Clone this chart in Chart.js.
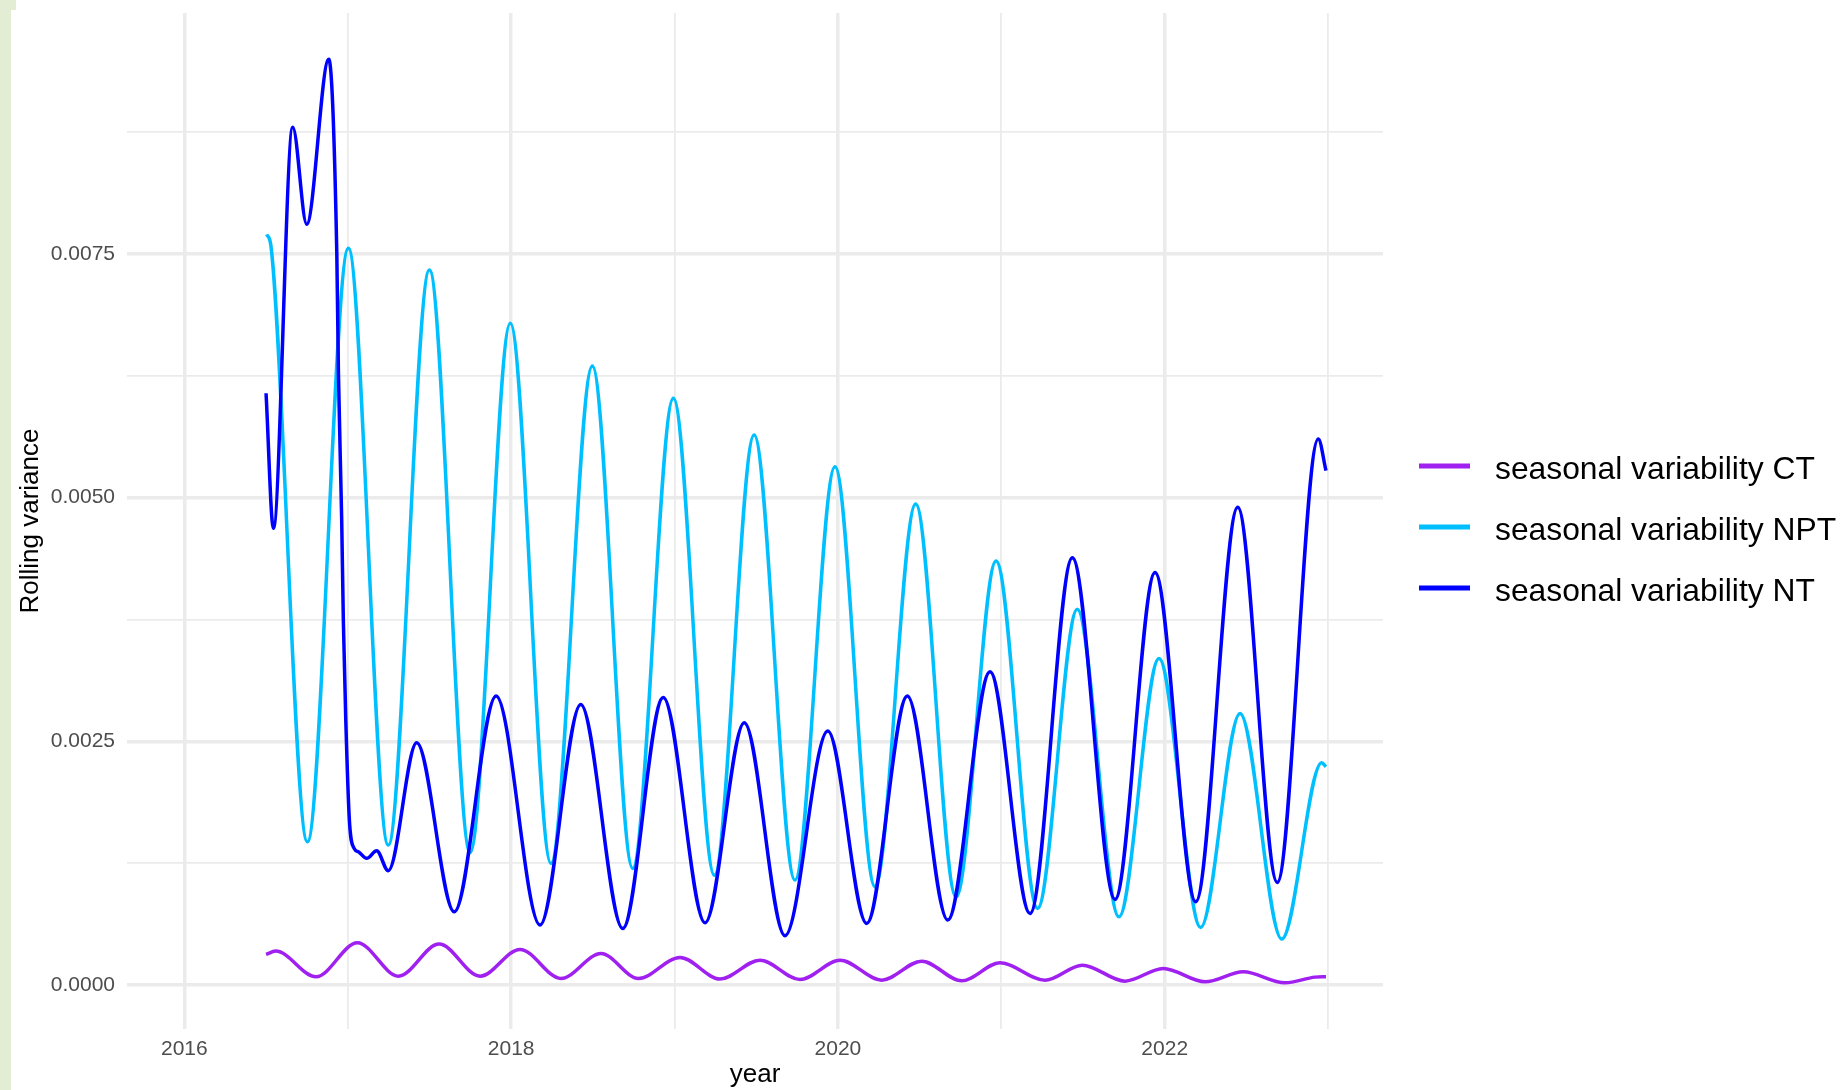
<!DOCTYPE html>
<html>
<head>
<meta charset="utf-8">
<title>Rolling variance</title>
<script src="https://cdn.jsdelivr.net/npm/chart.js@4.4.1/dist/chart.umd.min.js"></script>
<style>
  html, body { margin: 0; padding: 0; background: #ffffff; overflow: hidden; }
  #wrap { position: relative; width: 1844px; height: 1090px; }
  .strip { position: absolute; left: 0; top: 0; width: 11px; height: 1090px; background: #e3edd4; }
  .tab { position: absolute; left: 0; top: 0; width: 16px; height: 10px; background: #e3edd4; }
  canvas { position: absolute; left: 0; top: 0; }
</style>
</head>
<body>
<div id="wrap">
  <div class="strip"></div>
  <div class="tab"></div>
  <canvas id="chart" width="1844" height="1090"></canvas>
</div>
<script>
// Series names and colours
const seriesLabels = ['seasonal variability CT', 'seasonal variability NPT', 'seasonal variability NT'];
const seriesColors = ['#A020F0', '#00BFFF', '#0000FF'];

// Seasonal variability CT (decimal year, rolling variance)
const ctYears = [2016.500, 2016.559, 2016.806, 2017.059, 2017.310, 2017.559, 2017.810, 2018.054, 2018.305, 2018.550,
  2018.779, 2019.034, 2019.278, 2019.523, 2019.768, 2020.013, 2020.268, 2020.513, 2020.758, 2020.992,
  2021.267, 2021.496, 2021.757, 2021.991, 2022.247, 2022.481, 2022.736, 2022.920, 2022.987];
const ctValues = [0.000315, 0.000349, 0.000086, 0.000434, 0.000092, 0.000421, 0.000092, 0.000366, 0.000068, 0.000325,
  0.000068, 0.000284, 0.000062, 0.000256, 0.000058, 0.000256, 0.000051, 0.000246, 0.000044, 0.000229,
  0.000051, 0.000205, 0.000041, 0.000171, 0.000034, 0.000137, 0.000024, 0.000082, 0.000086];

// Seasonal variability NPT
const nptYears = [2016.504, 2016.530, 2016.753, 2017.004, 2017.248, 2017.500, 2017.749, 2017.995, 2018.244, 2018.497,
  2018.744, 2018.993, 2019.244, 2019.487, 2019.737, 2019.982, 2020.227, 2020.476, 2020.723, 2020.968,
  2021.222, 2021.465, 2021.720, 2021.965, 2022.220, 2022.461, 2022.716, 2022.961, 2022.987];
const nptValues = [0.007700, 0.007580, 0.001470, 0.007557, 0.001436, 0.007335, 0.001361, 0.006788, 0.001248, 0.006350,
  0.001197, 0.006018, 0.001128, 0.005642, 0.001077, 0.005317, 0.001009, 0.004934, 0.000906, 0.004350,
  0.000787, 0.003854, 0.000701, 0.003351, 0.000592, 0.002787, 0.000472, 0.002281, 0.002240];

// Seasonal variability NT
const ntYears = [2016.500, 2016.545, 2016.663, 2016.749, 2016.884, 2016.933, 2016.943, 2016.963, 2016.973, 2016.988,
  2017.010, 2017.039, 2017.065, 2017.116, 2017.177, 2017.248, 2017.422, 2017.652, 2017.908, 2018.177,
  2018.426, 2018.683, 2018.931, 2019.187, 2019.427, 2019.676, 2019.938, 2020.176, 2020.425, 2020.672,
  2020.931, 2021.176, 2021.435, 2021.696, 2021.941, 2022.190, 2022.447, 2022.689, 2022.940, 2022.987];
const ntValues = [0.006070, 0.004685, 0.008799, 0.007804, 0.009496, 0.007509, 0.006275, 0.004770, 0.003744, 0.002719,
  0.001693, 0.001402, 0.001368, 0.001300, 0.001378, 0.001173, 0.002486, 0.000752, 0.002965, 0.000616,
  0.002879, 0.000581, 0.002951, 0.000639, 0.002691, 0.000506, 0.002606, 0.000633, 0.002965, 0.000667,
  0.003214, 0.000735, 0.004384, 0.000879, 0.004233, 0.000855, 0.004900, 0.001053, 0.005601, 0.005276];

// Axis ticks: every tick gets a grid line, only the listed ones get a label
const xTickYears = [2016, 2017, 2018, 2019, 2020, 2021, 2022, 2023];
const xLabelYears = [2016, 2018, 2020, 2022];
const yTickValues = [0, 0.00125, 0.0025, 0.00375, 0.005, 0.00625, 0.0075, 0.00875];
const yLabelValues = [0, 0.0025, 0.005, 0.0075];

const seriesYears = [ctYears, nptYears, ntYears];
const seriesValues = [ctValues, nptValues, ntValues];

const near = (list, v) => list.some(t => Math.abs(t - v) < 1e-9);
const toPoints = (xs, ys) => xs.map((x, i) => ({ x: x, y: ys[i] }));

Chart.defaults.font.family = '"Liberation Sans", Arial, Helvetica, sans-serif';

// Legend drawn to the right of the panel
const sideLegend = {
  id: 'sideLegend',
  afterDraw(chart) {
    const ctx = chart.ctx;
    ctx.save();
    ctx.font = '31.8px "Liberation Sans", Arial, sans-serif';
    ctx.textBaseline = 'alphabetic';
    ctx.textAlign = 'left';
    chart.data.datasets.forEach((ds, i) => {
      const y = 466 + i * 61;
      ctx.strokeStyle = ds.borderColor;
      ctx.lineWidth = 5;
      ctx.lineCap = 'butt';
      ctx.beginPath();
      ctx.moveTo(1419, y);
      ctx.lineTo(1470, y);
      ctx.stroke();
      ctx.fillStyle = '#000000';
      ctx.fillText(ds.label, 1495, y + 12.5);
    });
    ctx.restore();
  }
};

const datasets = seriesLabels.map((label, i) => ({
  label: label,
  data: toPoints(seriesYears[i], seriesValues[i]),
  borderColor: seriesColors[i],
  backgroundColor: seriesColors[i],
  borderWidth: 3.5,
  pointRadius: 0,
  pointHoverRadius: 0,
  fill: false,
  cubicInterpolationMode: 'monotone',
  order: seriesLabels.length - i
}));

// Keep the panel edges fixed: no extra room reserved for edge tick labels
const fixPadding = scale => {
  scale.paddingTop = 0;
  scale.paddingBottom = 0;
  scale.paddingLeft = 0;
  scale.paddingRight = 0;
};

new Chart(document.getElementById('chart'), {
  type: 'line',
  data: { datasets: datasets },
  options: {
    responsive: false,
    animation: false,
    devicePixelRatio: 1,
    layout: { padding: { left: 0, right: 461, top: 13, bottom: 0 } },
    plugins: { legend: { display: false }, tooltip: { enabled: false } },
    scales: {
      x: {
        type: 'linear',
        min: 2015.649,
        max: 2023.336,
        afterBuildTicks: scale => { scale.ticks = xTickYears.map(v => ({ value: v })); },
        afterFit: scale => { scale.height = 61; fixPadding(scale); },
        grid: {
          color: '#ebebeb',
          lineWidth: ctx => ctx.tick ? (near(xLabelYears, ctx.tick.value) ? 3.5 : 1.8) : 0,
          drawTicks: false
        },
        border: { display: false },
        ticks: {
          autoSkip: false,
          maxRotation: 0,
          padding: 8,
          color: '#4d4d4d',
          font: { size: 21 },
          callback: v => near(xLabelYears, v) ? String(v) : ''
        },
        title: {
          display: true,
          text: 'year',
          color: '#000000',
          font: { size: 26 },
          padding: { top: 0, bottom: 0 }
        }
      },
      y: {
        type: 'linear',
        min: -0.00045,
        max: 0.00997,
        afterBuildTicks: scale => { scale.ticks = yTickValues.map(v => ({ value: v })); },
        afterFit: scale => { scale.width = 127; fixPadding(scale); },
        grid: {
          color: '#ebebeb',
          lineWidth: ctx => ctx.tick ? (near(yLabelValues, ctx.tick.value) ? 3.5 : 1.8) : 0,
          drawTicks: false
        },
        border: { display: false },
        ticks: {
          autoSkip: false,
          padding: 12,
          color: '#4d4d4d',
          font: { size: 21 },
          callback: v => near(yLabelValues, v) ? v.toFixed(4) : ''
        },
        title: {
          display: true,
          text: 'Rolling variance',
          color: '#000000',
          font: { size: 26 },
          padding: { top: 15, bottom: 0 }
        }
      }
    }
  },
  plugins: [sideLegend]
});
</script>
</body>
</html>
